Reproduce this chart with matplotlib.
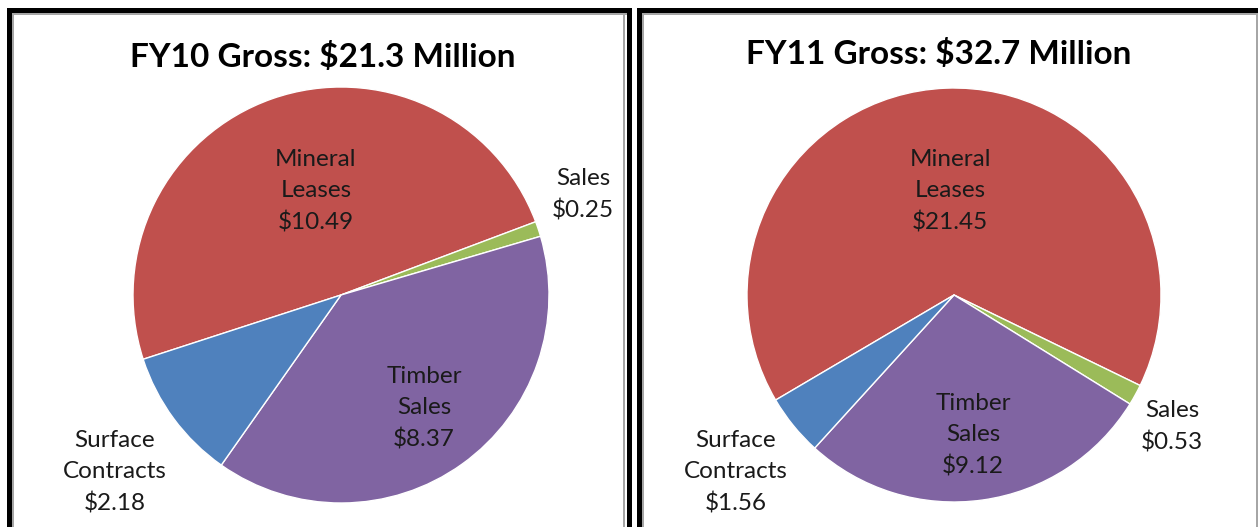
import matplotlib
matplotlib.use("Agg")
import matplotlib.pyplot as plt
from matplotlib.patches import Rectangle

# データ (百万ドル)
categories = ["Mineral\nLeases", "Sales", "Timber\nSales", "Surface\nContracts"]
fy10_values = [10.49, 0.25, 8.37, 2.18]
fy11_values = [21.45, 0.53, 9.12, 1.56]
titles = ["FY10 Gross: $21.3 Million", "FY11 Gross: $32.7 Million"]
colors = ["#C0504D", "#9BBB59", "#8064A2", "#4F81BD"]

W, H = 1258, 527
plt.rcParams['font.family'] = ['Lato', 'DejaVu Sans']

fig = plt.figure(figsize=(W / 100, H / 100), dpi=100)


def fbox(x, y, w, h):
    # ピクセル (左上原点) -> figure座標
    return (x / W, 1 - (y + h) / H, w / W, h / H)


def band(x, y, w, h, color):
    x0, y0, ww, hh = fbox(x, y, w, h)
    fig.add_artist(Rectangle((x0, y0), ww, hh, transform=fig.transFigure,
                             facecolor=color, edgecolor='none'))


# パネルの枠線
black, gray = "#000000", "#a6a6a6"
for left, right in [(7, 632), (637, 1265)]:
    band(left, 8, right - left, 5, black)
    band(left, 8, 5, H, black)
    band(right - 5, 8, 5, H, black)
    band(left + 5, 13, right - left - 10, 2, gray)
    band(left + 5, 13, 2, H, gray)
    band(right - 9, 13, 2, H, gray)

# パイの配置 (中心x, 中心y, 半径, 開始角)
pie_specs = [(341, 295, 208, 198.0), (954, 295, 207, 210.5)]
title_pos = [(323, 57), (939, 54)]
label_pos = [
    [(316, 191), (583, 195), (424, 408), (115, 472)],
    [(950, 191), (1172, 427), (973, 435), (736, 472)],
]

for i, values in enumerate([fy10_values, fy11_values]):
    cx, cy, r, start = pie_specs[i]
    ax = fig.add_axes(fbox(cx - r, cy - r, 2 * r, 2 * r))
    ax.pie(values, colors=colors, startangle=start, counterclock=False,
           radius=1.0, wedgeprops=dict(edgecolor='white', linewidth=1.0))
    ax.set_xlim(-1, 1)
    ax.set_ylim(-1, 1)
    ax.set_aspect('equal')
    ax.axis('off')

    tx, ty = title_pos[i]
    fig.text(tx / W, 1 - ty / H, titles[i], ha='center', va='center',
             fontsize=24, fontweight='bold', color='black')

    for (lx, ly), name, v in zip(label_pos[i], categories, values):
        fig.text(lx / W, 1 - ly / H, f"{name}\n${v:.2f}", ha='center', va='center',
                 fontsize=17.5, linespacing=1.58, color='#1a1a1a')

fig.savefig("out.png", dpi=100)
